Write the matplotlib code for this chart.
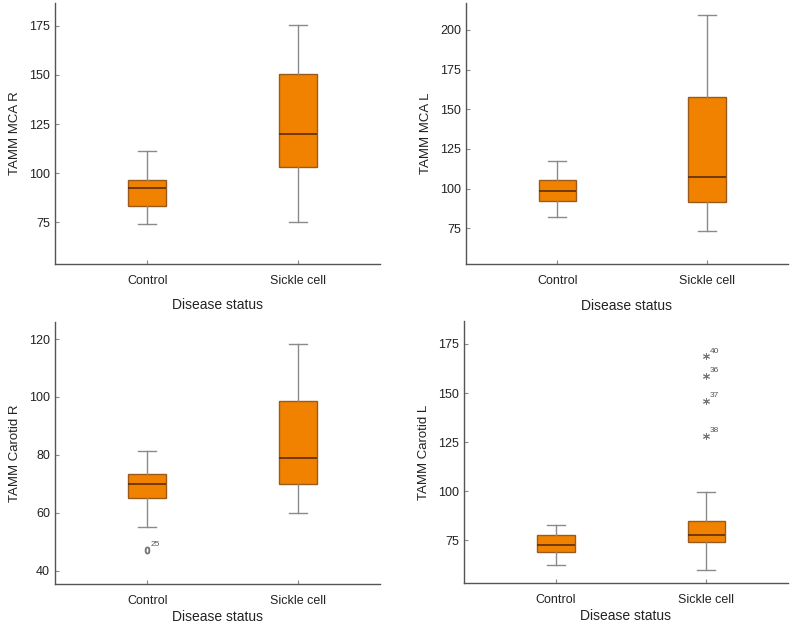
import matplotlib.pyplot as plt

plt.rcParams['font.family'] = ['Liberation Sans Narrow', 'Liberation Sans', 'DejaVu Sans']

groups = ['Control', 'Sickle cell']
x_label = 'Disease status'

# box stats per panel: [whislo, q1, med, q3, whishi] for Control, Sickle cell
mca_r_control = [74.0, 83.0, 92.5, 96.4, 111.4]
mca_r_sickle = [75.3, 102.9, 119.9, 150.3, 175.3]

mca_l_control = [82.0, 92.2, 98.7, 105.3, 117.3]
mca_l_sickle = [73.3, 91.6, 107.2, 157.7, 209.7]

car_r_control = [55.1, 65.0, 69.8, 73.3, 81.2]
car_r_sickle = [59.8, 69.8, 78.9, 98.5, 118.2]

car_l_control = [62.6, 68.9, 72.4, 77.7, 82.7]
car_l_sickle = [59.8, 74.0, 77.6, 84.7, 99.7]

# outliers
car_r_control_out = [47.2]
car_r_control_out_ids = ['25']
car_l_sickle_out = [168.9, 158.8, 146.1, 128.2]
car_l_sickle_out_ids = ['40', '36', '37', '38']

panels = [
    dict(title='TAMM MCA R', stats=[mca_r_control, mca_r_sickle], out=[[], []], ids=[[], []],
         ylim=(53.7, 186.7), ticks=[75, 100, 125, 150, 175],
         rect=[0.0694, 0.5783, 0.4104, 0.4170], marker='o', msize=5, xpad=8),
    dict(title='TAMM MCA L', stats=[mca_l_control, mca_l_sickle], out=[[], []], ids=[[], []],
         ylim=(52.3, 217.0), ticks=[75, 100, 125, 150, 175, 200],
         rect=[0.5884, 0.5778, 0.4062, 0.4174], marker='o', msize=5, xpad=8),
    dict(title='TAMM Carotid R', stats=[car_r_control, car_r_sickle],
         out=[car_r_control_out, []], ids=[car_r_control_out_ids, []],
         ylim=(35.4, 125.9), ticks=[40, 60, 80, 100, 120],
         rect=[0.0694, 0.0671, 0.4104, 0.4185], marker='$0$', msize=5, xpad=2),
    dict(title='TAMM Carotid L', stats=[car_l_control, car_l_sickle],
         out=[[], car_l_sickle_out], ids=[[], car_l_sickle_out_ids],
         ylim=(53.2, 186.7), ticks=[75, 100, 125, 150, 175],
         rect=[0.5859, 0.0687, 0.4087, 0.4185], marker=(6, 2, 0), msize=5, xpad=2),
]

fill = '#F08200'
edge = '#9A5A1E'
gray = '#8A8A8A'
spine = '#555555'

fig = plt.figure(figsize=(7.92, 6.26), dpi=100)

for p in panels:
    ax = fig.add_axes(p['rect'])
    bxp_stats = []
    for s, o in zip(p['stats'], p['out']):
        bxp_stats.append(dict(whislo=s[0], q1=s[1], med=s[2], q3=s[3], whishi=s[4], fliers=o))
    ax.bxp(bxp_stats, positions=[1, 2], widths=0.25, patch_artist=True,
           boxprops=dict(facecolor=fill, edgecolor=edge, linewidth=1.0),
           medianprops=dict(color='#5A2E08', linewidth=1.2),
           whiskerprops=dict(color=gray, linewidth=1.0),
           capprops=dict(color=gray, linewidth=1.0),
           capwidths=0.12,
           flierprops=dict(marker=p['marker'], markersize=p['msize'],
                           markerfacecolor='#777777', markeredgecolor='#777777',
                           markeredgewidth=0.7, linestyle='none'))
    for pos, vals, ids in zip([1, 2], p['out'], p['ids']):
        for v, t in zip(vals, ids):
            ax.annotate(t, (pos, v), xytext=(2.5, 1), textcoords='offset points',
                        fontsize=6, color='#555555', va='bottom', ha='left')

    ax.set_xlim(0.39, 2.54)
    ax.set_ylim(*p['ylim'])
    ax.set_yticks(p['ticks'])
    ax.set_xticks([1, 2])
    ax.set_xticklabels(groups)
    ax.set_ylabel(p['title'], fontsize=9.5, color='#222222', labelpad=6)
    ax.set_xlabel(x_label, fontsize=10, color='#222222', labelpad=p['xpad'])
    for side in ['top', 'right']:
        ax.spines[side].set_visible(False)
    for side in ['left', 'bottom']:
        ax.spines[side].set_color(spine)
        ax.spines[side].set_linewidth(1.0)
    ax.tick_params(axis='both', direction='in', length=3, color=gray,
                   labelsize=9, labelcolor='#222222')
    ax.tick_params(axis='x', pad=8)

fig.savefig('out.png', dpi=100)
